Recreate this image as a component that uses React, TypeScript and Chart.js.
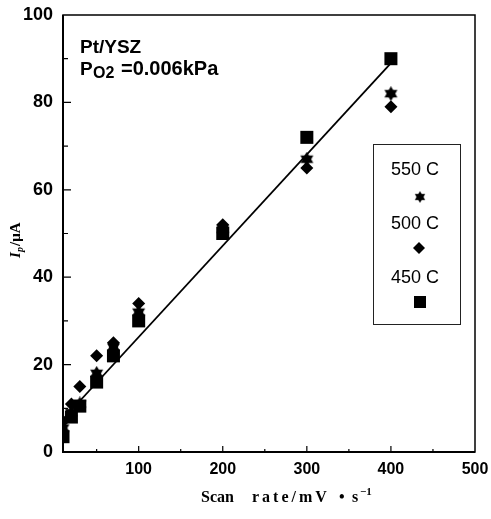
import React, { useEffect, useRef } from 'react';
import { Chart, registerables } from 'chart.js';

Chart.register(...registerables);

// ---- data ----
const scanRates = [10, 20, 30, 50, 70, 100, 200, 300, 400];
const ip550 = [5.5, 9, 11, 18, 24, 32, 51, 67, 82];
const ip500 = [7, 11, 15, 22, 25, 34, 52, 65, 79];
const ip450 = [3.5, 8, 10.5, 16, 22, 30, 50, 72, 90];
const fitX = [10, 400];
const fitY = [7.5, 89];
const seriesLabels = ['550 C', '500 C', '450 C'];
const xTickValues = [100, 200, 300, 400, 500];
const yTickValues = [0, 20, 40, 60, 80, 100];
const xMinorTicks = [50, 100, 150, 200, 250, 300, 350, 400, 450];
const yMinorTicks = [10, 20, 30, 40, 50, 60, 70, 80, 90];

function makeStar(size: number): HTMLCanvasElement {
  const c = document.createElement('canvas');
  c.width = size;
  c.height = size;
  const g = c.getContext('2d')!;
  const cx = size / 2, cy = size / 2, r = size / 2;
  g.fillStyle = '#000';
  const tri = (start: number) => {
    g.beginPath();
    for (let k = 0; k < 3; k++) {
      const a = start + (k * 2 * Math.PI) / 3;
      const px = cx + r * Math.cos(a), py = cy + r * Math.sin(a);
      if (k === 0) g.moveTo(px, py); else g.lineTo(px, py);
    }
    g.closePath();
    g.fill();
  };
  tri(-Math.PI / 2);
  tri(Math.PI / 2);
  return c;
}

const decorPlugin = {
  id: 'decor',
  afterDraw(chart: any) {
    const ctx: CanvasRenderingContext2D = chart.ctx;
    const { left, right, top, bottom } = chart.chartArea;
    const xs = chart.scales.x, ys = chart.scales.y;
    ctx.save();
    ctx.strokeStyle = '#000';
    // frame
    ctx.lineWidth = 1.5;
    ctx.strokeRect(left, top, right - left, bottom - top);
    ctx.lineWidth = 2;
    ctx.beginPath();
    ctx.moveTo(left, top);
    ctx.lineTo(left, bottom);
    ctx.lineTo(right, bottom);
    ctx.stroke();
    // inward ticks
    ctx.lineWidth = 1.2;
    ctx.beginPath();
    xMinorTicks.forEach((v) => {
      const px = xs.getPixelForValue(v);
      const len = v % 100 === 0 ? 6 : 3;
      ctx.moveTo(px, bottom);
      ctx.lineTo(px, bottom - len);
    });
    yMinorTicks.forEach((v) => {
      const py = ys.getPixelForValue(v);
      const len = v % 20 === 0 ? 8 : 5;
      ctx.moveTo(left, py);
      ctx.lineTo(left + len, py);
    });
    ctx.stroke();

    // annotations
    ctx.fillStyle = '#000';
    ctx.textBaseline = 'alphabetic';
    ctx.textAlign = 'left';
    ctx.font = 'bold 19px "Liberation Sans", Arial, sans-serif';
    ctx.fillText('Pt/YSZ', 80, 53);
    ctx.fillText('P', 80, 75);
    ctx.font = 'bold 16px "Liberation Sans", Arial, sans-serif';
    ctx.fillText('O2', 93, 78);
    ctx.font = 'bold 20px "Liberation Sans", Arial, sans-serif';
    ctx.fillText('=0.006kPa', 121, 75);

    // legend box
    ctx.lineWidth = 1;
    ctx.strokeStyle = '#222';
    ctx.strokeRect(373.5, 144.5, 87, 180);
    ctx.font = '18px "Liberation Sans", Arial, sans-serif';
    ctx.textAlign = 'center';
    ctx.fillText(seriesLabels[0], 415, 175);
    ctx.fillText(seriesLabels[1], 415, 229);
    ctx.fillText(seriesLabels[2], 415, 283);
    // legend markers
    const star = chart.data.datasets[1].pointStyle;
    ctx.drawImage(star, 420 - 6, 197 - 6, 12, 12);
    ctx.beginPath();
    ctx.moveTo(419, 242);
    ctx.lineTo(425, 248);
    ctx.lineTo(419, 254);
    ctx.lineTo(413, 248);
    ctx.closePath();
    ctx.fill();
    ctx.fillRect(414, 296, 12, 12);

    // x title
    ctx.textAlign = 'left';
    ctx.font = 'bold 16px "Liberation Serif", "Times New Roman", serif';
    ctx.fillText('Scan', 201, 502);
    (ctx as any).letterSpacing = '3px';
    ctx.fillText('rate/mV', 252, 502);
    (ctx as any).letterSpacing = '0px';
    ctx.fillText('\u2022', 339, 502);
    ctx.fillText('s', 352, 502);
    ctx.font = 'bold 11px "Liberation Serif", "Times New Roman", serif';
    ctx.fillText('\u22121', 360, 495);

    // y title (rotated)
    ctx.translate(20, 258);
    ctx.rotate(-Math.PI / 2);
    ctx.font = 'italic bold 15px "Liberation Serif", "Times New Roman", serif';
    ctx.fillText('I', 0, 0);
    ctx.font = 'italic bold 10px "Liberation Serif", "Times New Roman", serif';
    ctx.fillText('p', 6, 3);
    ctx.font = 'bold 15px "Liberation Serif", "Times New Roman", serif';
    ctx.fillText('/\u03bcA', 12, 0);
    ctx.restore();
  },
};

const zeroPad = (s: any) => {
  s.paddingTop = 0;
  s.paddingBottom = 0;
  s.paddingLeft = 0;
  s.paddingRight = 0;
};

export default function App() {
  const ref = useRef<HTMLCanvasElement | null>(null);
  useEffect(() => {
    const star = makeStar(15);
    const pts = (ys: number[]) => scanRates.map((x, i) => ({ x, y: ys[i] }));
    const chart = new Chart(ref.current!, {
      type: 'scatter',
      data: {
        datasets: [
          {
            label: 'fit',
            data: fitX.map((x, i) => ({ x, y: fitY[i] })),
            showLine: true,
            borderColor: '#000',
            borderWidth: 1.8,
            pointRadius: 0,
          } as any,
          {
            label: seriesLabels[0],
            data: pts(ip550),
            pointStyle: star as any,
            pointRadius: 7,
            backgroundColor: '#000',
            borderColor: '#000',
          },
          {
            label: seriesLabels[1],
            data: pts(ip500),
            pointStyle: 'rectRot',
            pointRadius: 6.5,
            borderWidth: 0,
            backgroundColor: '#000',
            borderColor: '#000',
          },
          {
            label: seriesLabels[2],
            data: pts(ip450),
            pointStyle: 'rect',
            pointRadius: 9.2,
            borderWidth: 0,
            backgroundColor: '#000',
            borderColor: '#000',
          },
        ],
      },
      options: {
        responsive: false,
        animation: false,
        events: [],
        layout: { padding: { left: 0, right: 16, top: 15, bottom: 0 } },
        plugins: { legend: { display: false }, tooltip: { enabled: false } },
        scales: {
          x: {
            type: 'linear',
            min: 10,
            max: 500,
            grid: { display: false, drawTicks: false },
            border: { display: false },
            afterBuildTicks: (s: any) => {
              s.ticks = xTickValues.map((v) => ({ value: v }));
            },
            afterFit: (s: any) => {
              s.height = 67;
              zeroPad(s);
            },
            ticks: {
              padding: 8,
              color: '#000',
              font: { family: '"Liberation Sans", Arial, sans-serif', size: 16, weight: 'bold' },
            },
          },
          y: {
            type: 'linear',
            min: 0,
            max: 100,
            grid: { display: false, drawTicks: false },
            border: { display: false },
            afterBuildTicks: (s: any) => {
              s.ticks = yTickValues.map((v) => ({ value: v }));
            },
            afterFit: (s: any) => {
              s.width = 63;
              zeroPad(s);
            },
            ticks: {
              padding: 10,
              color: '#000',
              font: { family: '"Liberation Sans", Arial, sans-serif', size: 18, weight: 'bold' },
            },
          },
        },
      },
      plugins: [decorPlugin],
    });
    return () => chart.destroy();
  }, []);
  return (
    <div style={{ position: 'fixed', left: 0, top: 0, width: 491, height: 519, background: '#fff' }}>
      <canvas ref={ref} width={491} height={519} style={{ display: 'block' }} />
    </div>
  );
}
